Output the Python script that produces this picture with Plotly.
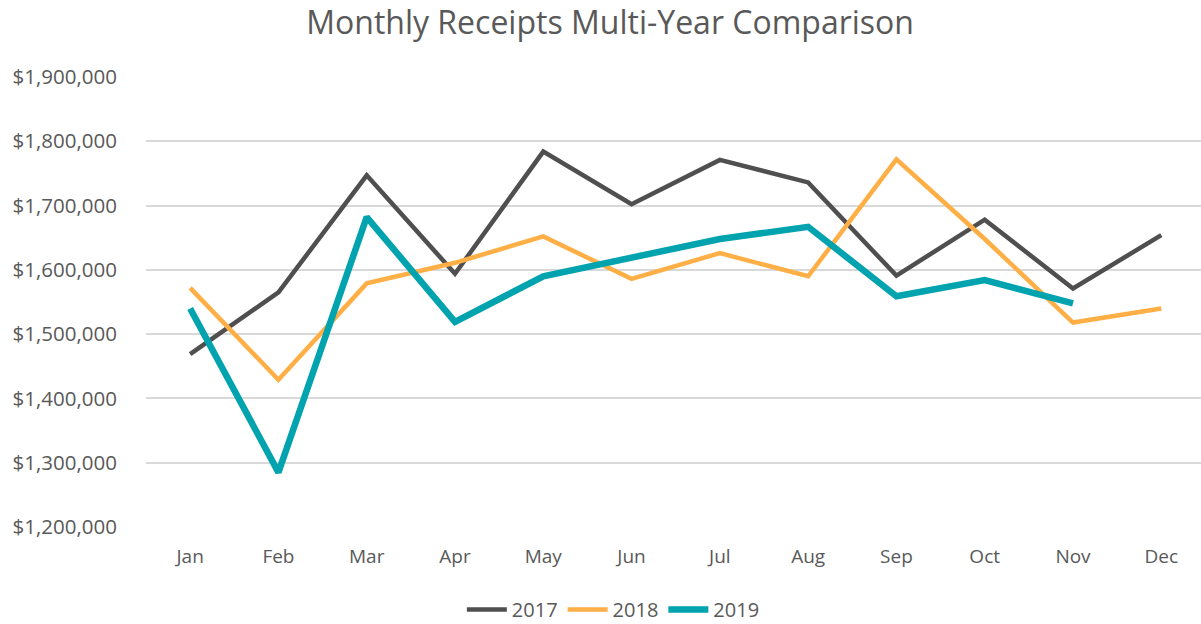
import plotly.graph_objects as go

months = ["Jan", "Feb", "Mar", "Apr", "May", "Jun", "Jul", "Aug", "Sep", "Oct", "Nov", "Dec"]
y2017 = [1469000, 1565000, 1747000, 1594000, 1784000, 1702000, 1771000, 1736000, 1591000, 1678000, 1571000, 1654000]
y2018 = [1572000, 1429000, 1579000, 1611000, 1652000, 1586000, 1626000, 1590000, 1772000, 1648000, 1518000, 1540000]
y2019 = [1540000, 1285000, 1682000, 1519000, 1590000, 1619000, 1648000, 1667000, 1559000, 1584000, 1548000]

font_family = "Open Sans, Noto Sans, sans-serif"
text_color = "#595959"

fig = go.Figure()
fig.add_trace(go.Scatter(x=months, y=y2017, name="2017", mode="lines",
                         line=dict(color="#4f4f4f", width=4.5)))
fig.add_trace(go.Scatter(x=months[:len(y2018)], y=y2018, name="2018", mode="lines",
                         line=dict(color="#FFAF45", width=4.5)))
fig.add_trace(go.Scatter(x=months[:len(y2019)], y=y2019, name="2019", mode="lines",
                         line=dict(color="#00A3AE", width=6.5)))

fig.update_layout(
    width=1201, height=624,
    paper_bgcolor="white", plot_bgcolor="white",
    margin=dict(l=146, r=0, t=77, b=97, autoexpand=False),
    title=dict(text="Monthly Receipts Multi-Year Comparison", x=0.508, xanchor="center",
               y=0.963, yanchor="middle",
               font=dict(family=font_family, size=32, color=text_color)),
    font=dict(family=font_family, size=19, color=text_color),
    showlegend=True,
    legend=dict(orientation="h", x=0.443, xanchor="center", y=-0.14, yanchor="top",
                font=dict(size=20, color=text_color), itemwidth=40, traceorder="normal"),
    xaxis=dict(type="category", categoryorder="array", categoryarray=months,
               range=[-0.5, 11.45], showgrid=False, zeroline=False, showline=False,
               ticks="", ticklabelstandoff=16, automargin=False,
               tickfont=dict(size=19, color=text_color)),
    yaxis=dict(range=[1200000, 1900000], dtick=100000, tick0=1200000,
               tickprefix="$", tickformat=",.0f", showgrid=True, gridcolor="#d9d9d9",
               gridwidth=1.5, zeroline=False, showline=False, ticks="", automargin=False,
               ticklabelstandoff=28, tickfont=dict(size=20.5, color=text_color)),
)

fig.write_html("out.html", config={"displayModeBar": False},
               post_script="document.body.style.margin='0';document.body.style.overflow='hidden';")
